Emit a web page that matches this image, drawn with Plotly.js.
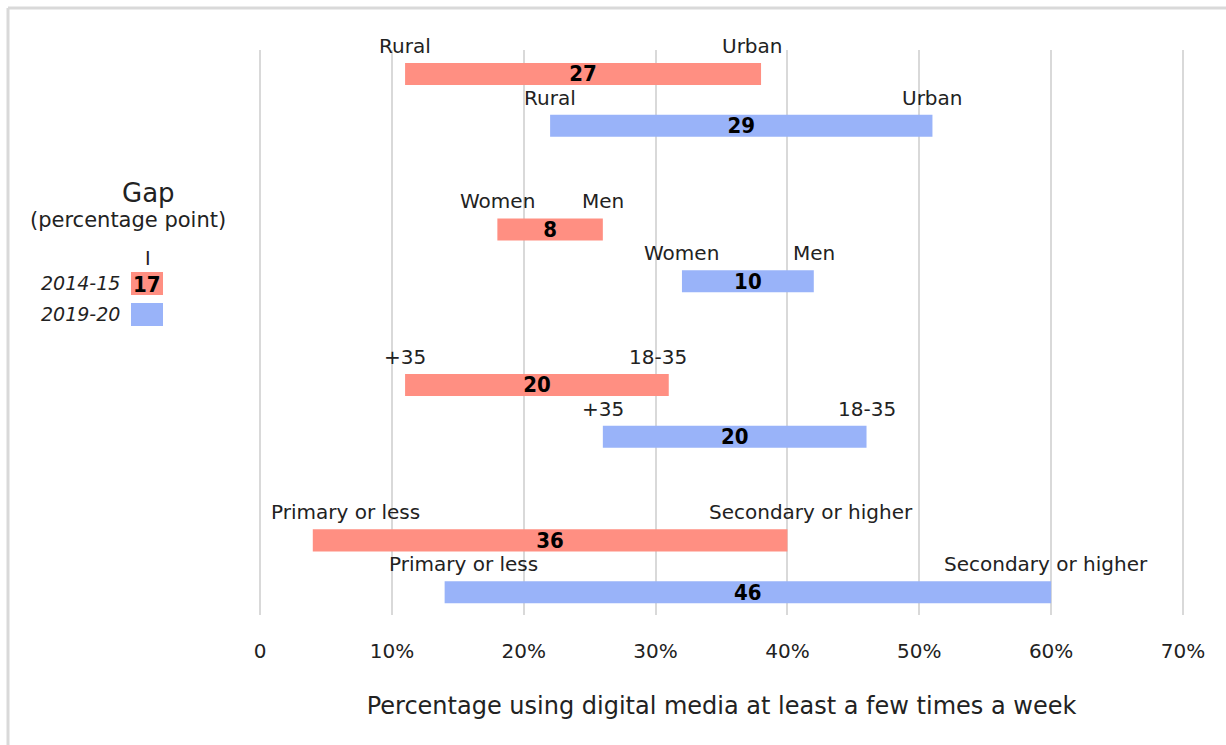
<!DOCTYPE html>
<html>
<head>
<meta charset="utf-8">
<script src="https://cdn.plot.ly/plotly-3.0.1.min.js"></script>
<style>html,body{margin:0;padding:0;background:#fff;}#chart{width:1226px;height:745px;}</style>
</head>
<body>
<div id="chart"></div>
<script>
// ---- data ----
const groups = ['Residence', 'Sex', 'Age', 'Education'];
const lowLabels = ['Rural', 'Women', '+35', 'Primary or less'];
const highLabels = ['Urban', 'Men', '18-35', 'Secondary or higher'];
const low2014 = [11, 18, 11, 4];
const high2014 = [38, 26, 31, 40];
const low2019 = [22, 32, 26, 14];
const high2019 = [51, 42, 46, 60];
const seriesNames = ['2014-15', '2019-20'];
const legendSample = '17';
const tickVals = [0, 10, 20, 30, 40, 50, 60, 70];
const tickText = ['0', '10%', '20%', '30%', '40%', '50%', '60%', '70%'];
const axisTitle = 'Percentage using digital media at least a few times a week';

// ---- style ----
const RED = '#FF8F82', BLUE = '#99B3F9', GRID = '#D9D9D9', TXT = '#222222';
const FONT = '"DejaVu Sans", Lato, sans-serif';
const NUMFONT = '"Liberation Sans Narrow", "DejaVu Sans Condensed", sans-serif';
// label nudges (pixels) [series][group] for low/high labels
const lowNudge = [[0, 0, 0, 33], [0, 0, 0, 19]];
const highNudge = [[-9, 0, -11, 24], [0, 0, 0, -5]];

const W = 1226, H = 745, ML = 259, MR = 42, MT = 50, MB = 130;
const PW = W - ML - MR, PH = H - MT - MB;
const px = x => (x - ML) / PW;
const py = y => (H - MB - y) / PH;

const yPos = (g, s) => -(3 * g + s);
const series = [
  {low: low2014, high: high2014, color: RED},
  {low: low2019, high: high2019, color: BLUE}
];

const traces = series.map((s, si) => ({
  type: 'bar',
  orientation: 'h',
  name: seriesNames[si],
  y: groups.map((g, gi) => yPos(gi, si)),
  base: s.low,
  x: s.high.map((h, i) => h - s.low[i]),
  width: 0.425,
  marker: {color: s.color, line: {width: 0}},
  text: s.high.map((h, i) => String(h - s.low[i])),
  textposition: 'inside',
  insidetextanchor: 'middle',
  constraintext: 'none',
  textangle: 0,
  textfont: {family: NUMFONT, size: 22, color: '#000', weight: 'bold'},
  cliponaxis: false,
  hoverinfo: 'skip',
  showlegend: false
}));

const annotations = [];
series.forEach((s, si) => {
  groups.forEach((g, gi) => {
    const y = yPos(gi, si);
    annotations.push({x: s.low[gi], y: y, xref: 'x', yref: 'y', text: lowLabels[gi], showarrow: false,
      xanchor: 'center', yanchor: 'middle', yshift: 28, xshift: lowNudge[si][gi],
      font: {family: FONT, size: 20, color: TXT}});
    annotations.push({x: s.high[gi], y: y, xref: 'x', yref: 'y', text: highLabels[gi], showarrow: false,
      xanchor: 'center', yanchor: 'middle', yshift: 28, xshift: highNudge[si][gi],
      font: {family: FONT, size: 20, color: TXT}});
  });
});

// legend (custom)
annotations.push({xref: 'paper', yref: 'paper', x: px(148), y: py(193), text: 'Gap', showarrow: false,
  xanchor: 'center', yanchor: 'middle', font: {family: FONT, size: 26, color: TXT}});
annotations.push({xref: 'paper', yref: 'paper', x: px(128), y: py(220), text: '(percentage point)', showarrow: false,
  xanchor: 'center', yanchor: 'middle', font: {family: FONT, size: 21, color: TXT}});
annotations.push({xref: 'paper', yref: 'paper', x: px(148), y: py(258), text: 'I', showarrow: false,
  xanchor: 'center', yanchor: 'middle', font: {family: FONT, size: 19, color: TXT}});
annotations.push({xref: 'paper', yref: 'paper', x: px(122), y: py(283), text: '<i>' + seriesNames[0] + '</i>', showarrow: false,
  xanchor: 'right', yanchor: 'middle', font: {family: FONT, size: 19, color: TXT}});
annotations.push({xref: 'paper', yref: 'paper', x: px(122), y: py(314), text: '<i>' + seriesNames[1] + '</i>', showarrow: false,
  xanchor: 'right', yanchor: 'middle', font: {family: FONT, size: 19, color: TXT}});
annotations.push({xref: 'paper', yref: 'paper', x: px(147), y: py(284), text: '<b>' + legendSample + '</b>', showarrow: false,
  xanchor: 'center', yanchor: 'middle', font: {family: NUMFONT, size: 22, color: '#000'}});

const shapes = [
  {type: 'rect', xref: 'paper', yref: 'paper', x0: px(131), x1: px(163), y0: py(272), y1: py(295),
    fillcolor: RED, line: {width: 0}, layer: 'below'},
  {type: 'rect', xref: 'paper', yref: 'paper', x0: px(131), x1: px(163), y0: py(303), y1: py(326),
    fillcolor: BLUE, line: {width: 0}, layer: 'below'},
  // outer frame (top & left)
  {type: 'line', xref: 'paper', yref: 'paper', x0: px(8), x1: px(1226), y0: py(8), y1: py(8),
    line: {color: GRID, width: 3}},
  {type: 'line', xref: 'paper', yref: 'paper', x0: px(8), x1: px(8), y0: py(8), y1: py(745),
    line: {color: GRID, width: 3}}
];

const layout = {
  width: W, height: H,
  margin: {l: ML, r: MR, t: MT, b: MB, pad: 0},
  paper_bgcolor: '#fff', plot_bgcolor: '#fff',
  showlegend: false,
  barmode: 'overlay',
  xaxis: {
    range: [-0.08, 70.08], tickvals: tickVals, ticktext: tickText,
    showgrid: true, gridcolor: GRID, gridwidth: 2, zeroline: false, showline: false,
    ticks: '', ticklabelstandoff: 22,
    tickfont: {family: FONT, size: 20, color: TXT},
    title: {text: axisTitle, font: {family: FONT, size: 24, color: TXT}, standoff: 35},
    automargin: false, fixedrange: true
  },
  yaxis: {
    range: [-10.44, 0.463], visible: false, showgrid: false, zeroline: false, fixedrange: true
  },
  annotations: annotations,
  shapes: shapes
};

Plotly.newPlot('chart', traces, layout, {displayModeBar: false, staticPlot: true});
</script>
</body>
</html>
